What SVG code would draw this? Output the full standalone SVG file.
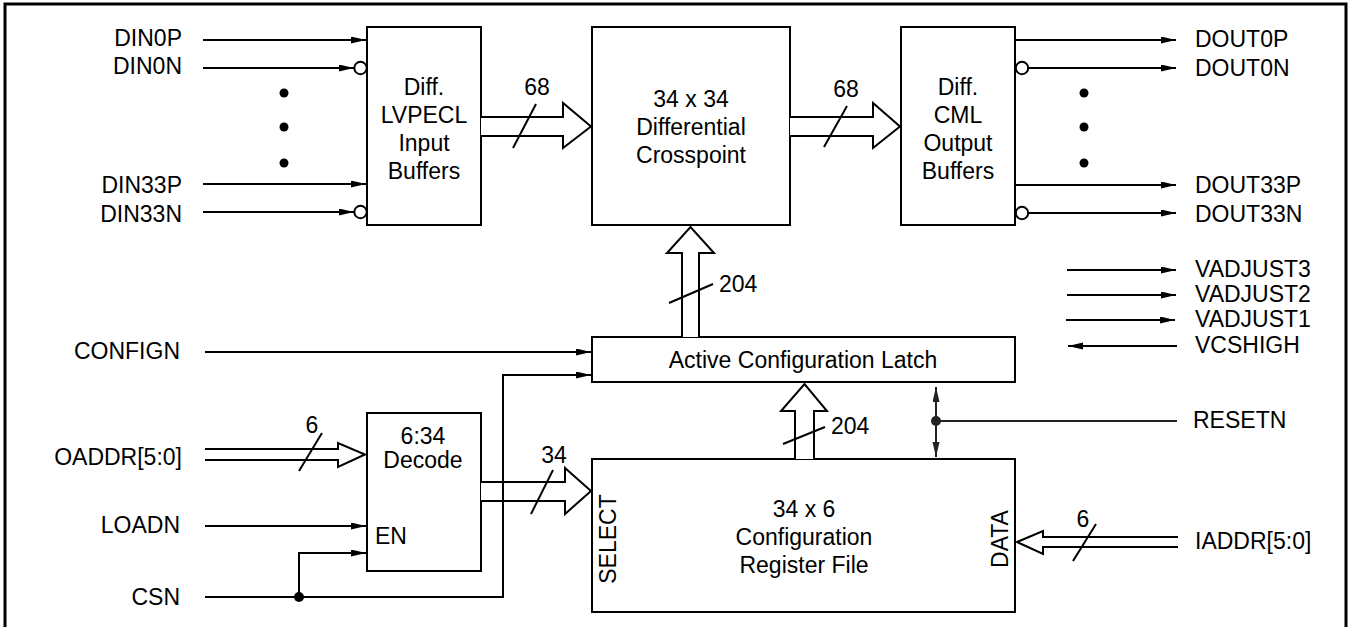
<svg xmlns="http://www.w3.org/2000/svg" width="1351" height="627" viewBox="0 0 1351 627">
<style>
text{font-family:"Liberation Sans",Arial,Helvetica,sans-serif;font-size:23px;fill:#000}
.box{fill:#fff;stroke:#000;stroke-width:2}
.w{fill:none;stroke:#000;stroke-width:2}
.bus{fill:#fff;stroke:#000;stroke-width:2;stroke-linejoin:miter}
.sl{stroke:#000;stroke-width:2}
.g{fill:none;stroke:#222;stroke-width:2}
.bub{fill:#fff;stroke:#000;stroke-width:2}
.m{text-anchor:middle}
.e{text-anchor:end}
</style>
<defs>
<marker id="ah" markerUnits="userSpaceOnUse" markerWidth="16" markerHeight="8" refX="15" refY="3.5" orient="auto"><path d="M0,0 L15,3.5 L0,7 z" fill="#000"/></marker>
<marker id="ah2" markerUnits="userSpaceOnUse" markerWidth="16" markerHeight="8" refX="15" refY="3.5" orient="auto-start-reverse"><path d="M0,0 L15,3.5 L0,7 z" fill="#222"/></marker>
</defs>
<rect width="1351" height="627" fill="#fff"/>
<path d="M5,627 L5,4 L1346,4 L1346,627" fill="none" stroke="#000" stroke-width="3"/>

<g id="input-buffers">
<rect class="box" x="367" y="27" width="114" height="198"/>
<text class="m" x="424" y="95">Diff.</text>
<text class="m" x="424" y="123">LVPECL</text>
<text class="m" x="424" y="151">Input</text>
<text class="m" x="424" y="179">Buffers</text>
</g>
<g id="crosspoint">
<rect class="box" x="592" y="27" width="198" height="198"/>
<text class="m" x="691" y="107">34 x 34</text>
<text class="m" x="691" y="135">Differential</text>
<text class="m" x="691" y="163">Crosspoint</text>
</g>
<g id="output-buffers">
<rect class="box" x="901" y="27" width="114" height="198"/>
<text class="m" x="958" y="95">Diff.</text>
<text class="m" x="958" y="123">CML</text>
<text class="m" x="958" y="151">Output</text>
<text class="m" x="958" y="179">Buffers</text>
</g>
<g id="latch">
<rect class="box" x="592" y="337" width="423" height="45"/>
<text class="m" x="803" y="368">Active Configuration Latch</text>
</g>
<g id="decode">
<rect class="box" x="367" y="413" width="114" height="158"/>
<text class="m" x="423" y="444">6:34</text>
<text class="m" x="423" y="468">Decode</text>
<text x="375" y="544">EN</text>
</g>
<g id="register-file">
<rect class="box" x="592" y="459" width="423" height="153"/>
<text class="m" x="804" y="517">34 x 6</text>
<text class="m" x="804" y="545">Configuration</text>
<text class="m" x="804" y="573">Register File</text>
<text class="m" transform="translate(616,539) rotate(-90)">SELECT</text>
<text class="m" transform="translate(1008,539) rotate(-90)">DATA</text>
</g>

<g id="labels">
<text class="e" x="182" y="46">DIN0P</text>
<text class="e" x="182" y="74">DIN0N</text>
<text class="e" x="182" y="193">DIN33P</text>
<text class="e" x="182" y="222">DIN33N</text>
<text x="1195" y="47">DOUT0P</text>
<text x="1195" y="76">DOUT0N</text>
<text x="1195" y="193">DOUT33P</text>
<text x="1195" y="222">DOUT33N</text>
<text x="1195" y="277">VADJUST3</text>
<text x="1195" y="302">VADJUST2</text>
<text x="1195" y="327">VADJUST1</text>
<text x="1195" y="353">VCSHIGH</text>
<text x="1193" y="428">RESETN</text>
<text x="1195" y="549">IADDR[5:0]</text>
<text class="e" x="180" y="359">CONFIGN</text>
<text class="e" x="182" y="465">OADDR[5:0]</text>
<text class="e" x="180" y="533">LOADN</text>
<text class="e" x="180" y="605">CSN</text>
<text class="m" x="537" y="95">68</text>
<text class="m" x="846" y="97">68</text>
<text x="719" y="292">204</text>
<text x="831" y="434">204</text>
<text class="m" x="312" y="433">6</text>
<text class="m" x="554" y="463">34</text>
<text class="m" x="1083" y="527">6</text>
</g>

<g id="connectors">
<line class="w" x1="203" y1="40" x2="366" y2="40" marker-end="url(#ah)"/>
<line class="w" x1="203" y1="68" x2="354" y2="68" marker-end="url(#ah)"/>
<circle class="bub" cx="360.5" cy="68" r="6.2"/>
<line class="w" x1="203" y1="184" x2="366" y2="184" marker-end="url(#ah)"/>
<line class="w" x1="203" y1="212" x2="354" y2="212" marker-end="url(#ah)"/>
<circle class="bub" cx="360.5" cy="212" r="6.2"/>
<circle cx="284" cy="93" r="4.5"/>
<circle cx="284" cy="127" r="4.5"/>
<circle cx="284" cy="163" r="4.5"/>
<line class="w" x1="1015" y1="40" x2="1176" y2="40" marker-end="url(#ah)"/>
<circle class="bub" cx="1022" cy="68" r="6.2"/>
<line class="w" x1="1028.2" y1="68" x2="1176" y2="68" marker-end="url(#ah)"/>
<line class="w" x1="1015" y1="185" x2="1176" y2="185" marker-end="url(#ah)"/>
<circle class="bub" cx="1022" cy="213" r="6.2"/>
<line class="w" x1="1028.2" y1="213" x2="1176" y2="213" marker-end="url(#ah)"/>
<circle cx="1084" cy="93" r="4.5"/>
<circle cx="1084" cy="127" r="4.5"/>
<circle cx="1084" cy="163" r="4.5"/>
<line class="w" x1="1067" y1="270" x2="1176" y2="270" marker-end="url(#ah)"/>
<line class="w" x1="1067" y1="295" x2="1176" y2="295" marker-end="url(#ah)"/>
<line class="w" x1="1066" y1="320" x2="1175" y2="320" marker-end="url(#ah)"/>
<line class="w" x1="1177" y1="346" x2="1068" y2="346" marker-end="url(#ah)"/>
<path class="bus" d="M481,117 L563,117 L563,103 L591,126.5 L563,148 L563,136 L481,136"/>
<line class="sl" x1="513" y1="148" x2="536" y2="104"/>
<path class="bus" d="M790,117 L873,117 L873,103 L900,126.5 L873,148 L873,136 L790,136"/>
<line class="sl" x1="824" y1="147" x2="847" y2="106"/>
<path class="bus" d="M682,337 L682,253 L667,253 L690.5,227 L714,253 L699,253 L699,337"/>
<line class="sl" x1="669" y1="303" x2="713" y2="284"/>
<path class="bus" d="M795,459 L795,411 L781,411 L804.5,384 L827,411 L814,411 L814,459"/>
<line class="sl" x1="783" y1="444" x2="825" y2="427"/>
<path class="bus" d="M205,449 L338,449 L338,443 L365,454.5 L338,467 L338,460 L205,460"/>
<line class="sl" x1="299" y1="471" x2="322" y2="433"/>
<path class="bus" d="M481,482 L565,482 L565,468 L591,491 L565,514 L565,501 L481,501"/>
<line class="sl" x1="531" y1="514" x2="553" y2="470"/>
<path class="bus" d="M1178,537 L1043,537 L1043,531 L1017,542 L1043,554 L1043,547 L1178,547"/>
<line class="sl" x1="1073" y1="561" x2="1096" y2="524"/>
<line class="w" x1="205" y1="352" x2="591" y2="352" marker-end="url(#ah)"/>
<line class="w" x1="205" y1="526" x2="366" y2="526" marker-end="url(#ah)"/>
<polyline class="w" points="205,597 503,597 503,375 591,375" marker-end="url(#ah)"/>
<polyline class="w" points="299,597 299,553 366,553" marker-end="url(#ah)"/>
<circle cx="299" cy="597" r="5"/>
<line class="g" x1="936" y1="387" x2="936" y2="457" marker-start="url(#ah2)" marker-end="url(#ah2)"/>
<line class="g" x1="936" y1="421" x2="1177" y2="421"/>
<circle cx="936" cy="421" r="5" fill="#222"/>
</g>
</svg>
